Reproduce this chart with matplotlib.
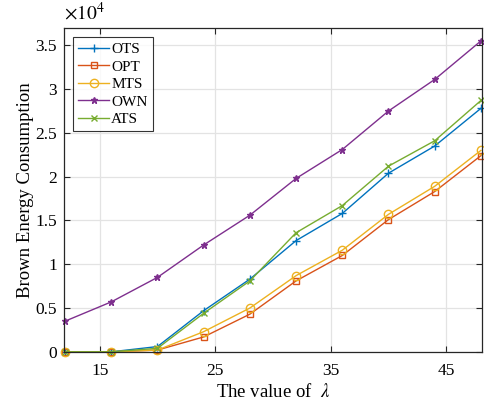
import numpy as np
import matplotlib
matplotlib.use('Agg')
import matplotlib.pyplot as plt

plt.rcParams['font.family'] = ['Liberation Serif', 'DejaVu Serif']
plt.rcParams['mathtext.fontset'] = 'stix'

# lambda values and energy (units of 1e4)
lam = [12, 16, 20, 24, 28, 32, 36, 40, 44, 48]
ots = [0.00, 0.00, 0.06, 0.47, 0.83, 1.27, 1.58, 2.04, 2.35, 2.78]
opt = [0.00, 0.00, 0.02, 0.17, 0.43, 0.81, 1.10, 1.51, 1.83, 2.24]
mts = [0.00, 0.00, 0.02, 0.23, 0.50, 0.87, 1.16, 1.57, 1.89, 2.30]
own = [0.35, 0.57, 0.85, 1.22, 1.56, 1.98, 2.31, 2.75, 3.11, 3.55]
ats = [0.00, 0.00, 0.04, 0.44, 0.81, 1.36, 1.67, 2.12, 2.41, 2.87]

xticks = [15, 25, 35, 45]
yticks = [0, 0.5, 1, 1.5, 2, 2.5, 3, 3.5]

fig = plt.figure(figsize=(4.84, 4.03), dpi=100)
ax = fig.add_axes([0.132, 0.127, 0.864, 0.804])

ax.plot(lam, ots, color='#0072BD', marker='+', ms=6, lw=1, label='OTS', clip_on=False)
ax.plot(lam, opt, color='#D95319', marker='s', ms=4, mfc='none', lw=1, label='OPT', clip_on=False)
ax.plot(lam, mts, color='#EDB120', marker='o', ms=6, mfc='none', lw=1, label='MTS', clip_on=False)
ax.plot(lam, own, color='#7E2F8E', marker='*', ms=5, lw=1, label='OWN', clip_on=False)
ax.plot(lam, ats, color='#77AC30', marker='x', ms=4, lw=1, label='ATS', clip_on=False)

ax.set_xlim(11.9, 48.1)
ax.set_ylim(0, 3.7)
ax.set_xticks(xticks)
ax.set_yticks(yticks)
ax.set_yticklabels(['0', '0.5', '1', '1.5', '2', '2.5', '3', '3.5'])
ax.tick_params(direction='in', top=True, right=True, labelsize=12.5, length=4,
               color='#262626')
ax.tick_params(axis='x', pad=8)
ax.tick_params(axis='y', pad=5)
ax.grid(True, color='#e3e3e3', lw=0.9)
ax.set_axisbelow(True)
for s in ax.spines.values():
    s.set_color('#262626')
    s.set_linewidth(0.9)

ax.set_xlabel(r'The value of  $\lambda$', fontsize=13.5, labelpad=3)
ax.set_ylabel('Brown Energy Consumption', fontsize=13.5, labelpad=1)
ax.text(0.0, 1.012, r'$\times10^4$', transform=ax.transAxes, fontsize=14,
        ha='left', va='bottom')

leg = ax.legend(loc='upper left', fontsize=11, frameon=True, fancybox=False,
                edgecolor='black', handlelength=2.0, borderaxespad=0.6,
                labelspacing=0.25, handletextpad=0.15, borderpad=0.35)
leg.get_frame().set_linewidth(0.8)

fig.savefig('out.png', dpi=100)
